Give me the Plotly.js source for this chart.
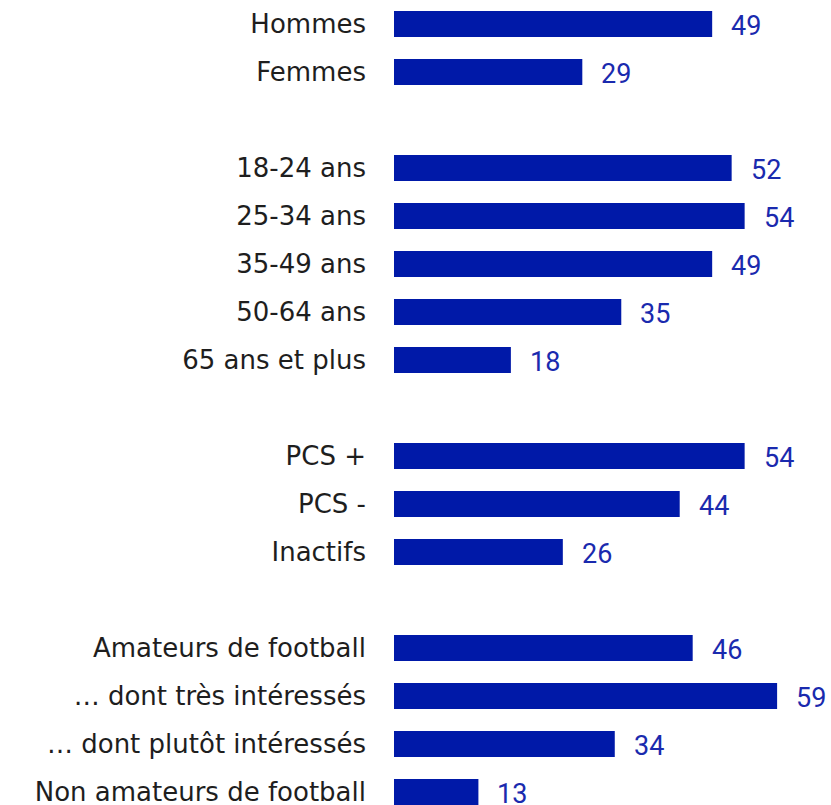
<!DOCTYPE html>
<html>
<head>
<meta charset="utf-8">
<script src="https://cdn.plot.ly/plotly-3.0.1.min.js"></script>
<style>html,body{margin:0;padding:0;background:#fff;}#chart{width:831px;height:805px;}</style>
</head>
<body>
<div id="chart"></div>
<script>
// Categories (spacers are blank rows between groups)
const categories = [
  "Hommes", "Femmes", " ",
  "18-24 ans", "25-34 ans", "35-49 ans", "50-64 ans", "65 ans et plus", "  ",
  "PCS +", "PCS -", "Inactifs", "   ",
  "Amateurs de football", "… dont très intéressés", "… dont plutôt intéressés", "Non amateurs de football"
];
const values = [
  49, 29, null,
  52, 54, 49, 35, 18, null,
  54, 44, 26, null,
  46, 59, 34, 13
];

const barColor = "#0019a8";
const valueColor = "#1a2aae";

const annotations = [];
categories.forEach((c, i) => {
  if (values[i] !== null) {
    annotations.push({
      x: values[i], y: c, xref: "x", yref: "y",
      text: String(values[i]), showarrow: false,
      xanchor: "left", yanchor: "middle", xshift: 17, yshift: -2,
      font: {family: "Roboto, sans-serif", size: 27, color: valueColor}
    });
  }
});

const trace = {
  type: "bar", orientation: "h",
  x: values, y: categories,
  marker: {color: barColor},
  hoverinfo: "none"
};

const layout = {
  width: 831, height: 805,
  margin: {l: 394, r: 0, t: 0, b: 0, pad: 0},
  paper_bgcolor: "#fff", plot_bgcolor: "#fff",
  showlegend: false,
  bargap: 0.46,
  xaxis: {range: [0, 67.3], visible: false, fixedrange: true},
  yaxis: {
    type: "category",
    categoryorder: "array", categoryarray: categories,
    range: [16.27, -0.5],
    showgrid: false, zeroline: false, showline: false,
    ticks: "", ticklabelstandoff: 27,
    tickfont: {family: "DejaVu Sans, sans-serif", size: 26, color: "#1e1e1e"}
  },
  annotations: annotations
};

Plotly.newPlot("chart", [trace], layout, {staticPlot: true, displayModeBar: false});
</script>
</body>
</html>
